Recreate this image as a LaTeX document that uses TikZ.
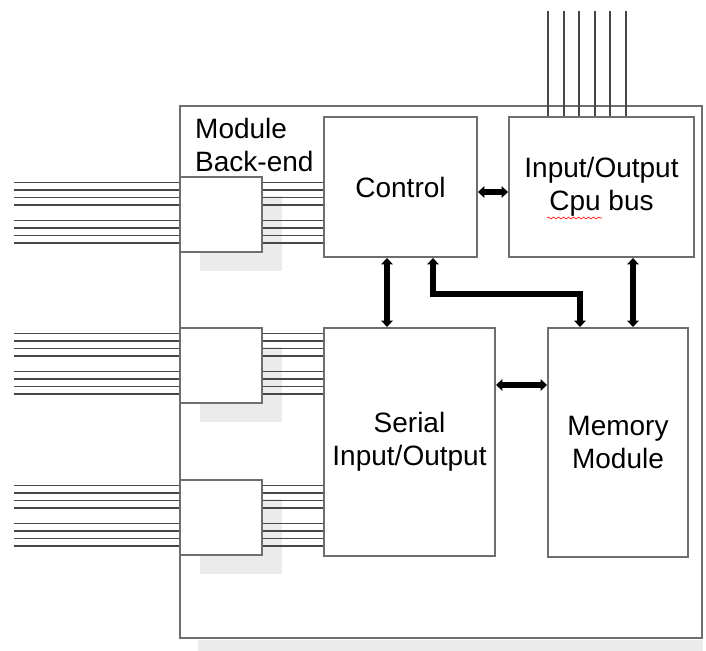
\documentclass[tikz,border=0pt]{standalone}
\usepackage{fontspec}
\setmainfont{Liberation Sans}
\usepackage{xcolor}
\usetikzlibrary{arrows.meta,shadows,decorations.pathmorphing}
\definecolor{boxgray}{HTML}{6E6E6E}
\definecolor{busgray}{HTML}{474747}
\definecolor{shadowgray}{HTML}{EBEBEB}

\begin{document}
\begin{tikzpicture}[x=1pt,y=-1pt,
      box/.style={rectangle,draw=boxgray,line width=1.9pt,fill=white,
                  align=center,inner sep=0pt,font=\fontsize{28}{33}\selectfont},
      bebox/.style={box,minimum width=82pt,minimum height=75pt,
                  drop shadow={shadow xshift=20pt,shadow yshift=-19pt,fill=shadowgray,opacity=1}},
      bus/.style={draw=busgray,line width=1.8pt},
      arr/.style={<->,line width=5.5pt,>={Triangle[length=6.5pt,width=11.5pt]}}]
    \useasboundingbox (0,0) rectangle (706,650);

    \node[box,minimum width=522pt,minimum height=532pt] (outer) at (441,372) {};
    \fill[shadowgray] ([xshift=19pt,yshift=-1pt]outer.south west) rectangle ([yshift=-19pt]outer.south east);
    \node[anchor=west,align=left,inner sep=0pt,font=\fontsize{28}{33}\selectfont] (backend) at (195,145) {Module\\Back-end};

    \node[box,minimum width=153pt,minimum height=140pt] (ctrl)   at (400.5,187) {Control};
    \node[box,minimum width=185pt,minimum height=140pt] (iobus)  at (601.5,187) {Input/Output\\Cpu bus};
    \node[box,minimum width=171pt,minimum height=228pt] (serial) at (409.5,442) {Serial\\Input/Output};
    \node[box,minimum width=140pt,minimum height=229pt] (memory) at (618,442.5) {Memory\\Module};

    \node[bebox] (be1) at (221,214.5) {};
    \node[bebox] (be2) at (221,365.5) {};
    \node[bebox] (be3) at (221,517.5) {};

    \foreach \b/\t in {be1/ctrl,be2/serial,be3/serial}
      \foreach \o in {6.5,14,21.5,29,44.5,52,59.5,67} {
        \draw[bus] (\b.north west) ++(0,\o) -- ++(-165,0);
        \draw[bus] (\b.north east) ++(0,\o) coordinate (p) -- (p -| \t.west);
      }
    \foreach \x in {548,564,579,595,610,626}
      \draw[bus] (iobus.north -| \x,0) -- ++(0,-105);

    \draw[arr] ([yshift=-5pt]ctrl.east) -- ([yshift=-5pt]ctrl.east -| iobus.west);
    \draw[arr] ([xshift=-13.5pt]ctrl.south) -- ([xshift=-13.5pt]ctrl.south |- serial.north);
    \draw[arr] ([xshift=32.5pt]ctrl.south) -- ++(0,36) -| ([xshift=-38pt]memory.north);
    \draw[arr] ([xshift=31.5pt]iobus.south) -- ([xshift=31.5pt]iobus.south |- memory.north);
    \draw[arr] ([yshift=57pt]serial.east) -- ([yshift=57pt]serial.east -| memory.west);

    \draw[red,line width=0.6pt,decorate,decoration={snake,amplitude=1pt,segment length=5pt}]
      (547,218) -- (602,218);
  \end{tikzpicture}
\end{document}
